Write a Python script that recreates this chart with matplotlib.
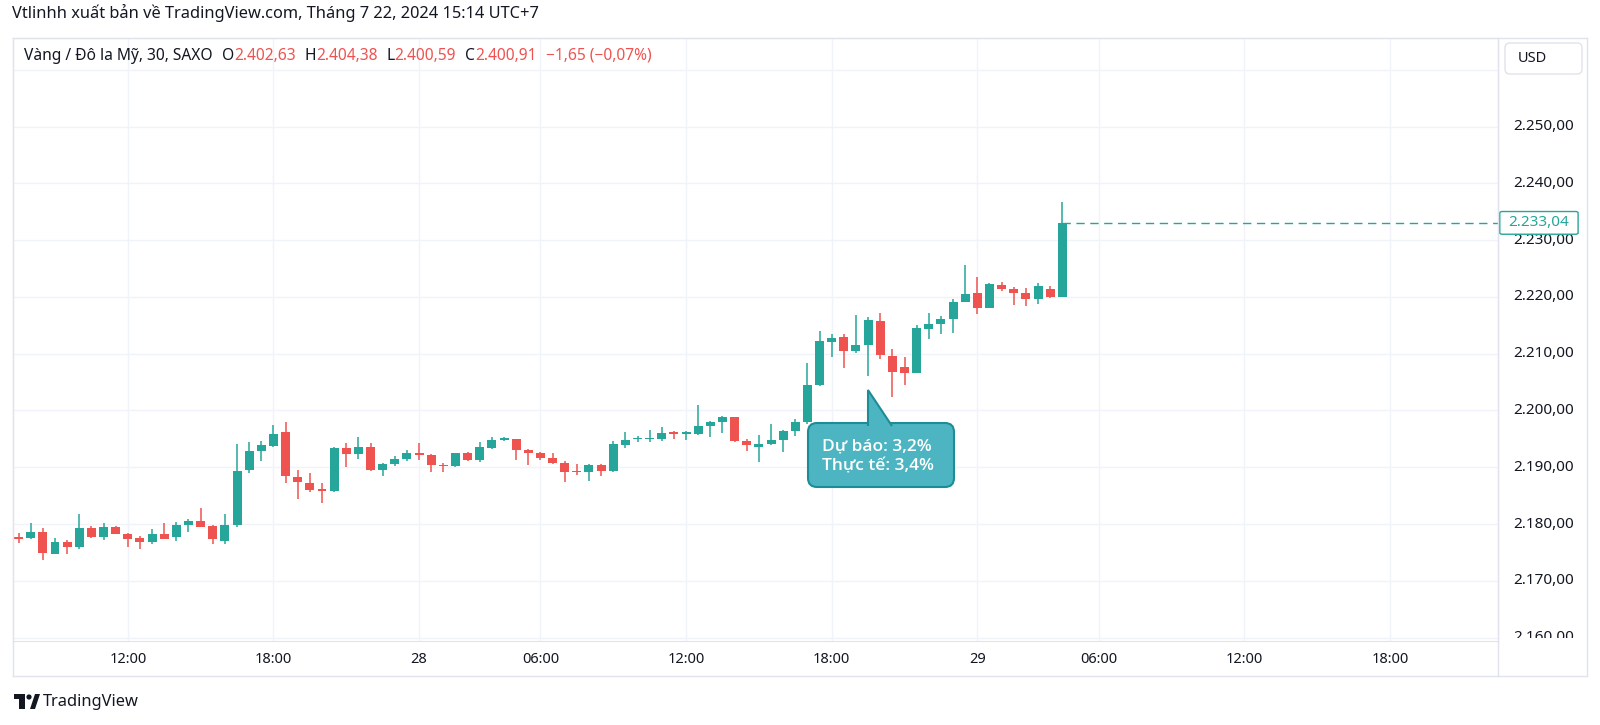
import numpy as np
import matplotlib
matplotlib.use("Agg")
import matplotlib.pyplot as plt
from matplotlib.patches import FancyBboxPatch, Polygon, Rectangle, Circle
from matplotlib.lines import Line2D
from matplotlib.transforms import Affine2D

# 30-minute candles, XAU/USD (SAXO)
opens = [2177.74, 2177.51, 2178.64, 2174.78, 2176.85, 2175.96, 2179.29, 2177.63, 2179.47, 2178.28,
         2177.51, 2176.79, 2178.28, 2177.63, 2179.88, 2180.53, 2179.64, 2177.09, 2179.76, 2189.44,
         2192.94, 2193.77, 2196.14, 2188.31, 2187.18, 2186.10, 2185.76, 2193.41, 2192.28, 2193.53,
         2189.56, 2190.50, 2191.51, 2192.46, 2192.10, 2190.33, 2190.15, 2192.58, 2191.28, 2193.47,
         2194.80, 2194.96, 2193.10, 2192.58, 2191.63, 2190.68, 2189.30, 2189.20, 2190.33, 2189.38,
         2194.00, 2194.90, 2194.90, 2194.96, 2196.14, 2195.79, 2195.90, 2197.33, 2197.98, 2198.93,
         2194.60, 2193.65, 2194.07, 2194.78, 2196.32, 2198.00, 2204.48, 2212.10, 2212.87, 2210.51,
         2211.51, 2215.71, 2209.62, 2207.67, 2206.55, 2214.41, 2215.23, 2216.06, 2219.19, 2220.61,
         2218.13, 2222.03, 2221.44, 2220.61, 2219.66, 2221.44, 2219.96]
highs = [2178.34, 2180.24, 2179.23, 2177.57, 2177.27, 2181.72, 2179.64, 2180.12, 2179.64, 2178.34,
         2177.86, 2179.11, 2180.12, 2180.42, 2180.89, 2182.85, 2179.76, 2181.72, 2194.07, 2194.42,
         2194.60, 2197.45, 2197.92, 2189.50, 2189.00, 2187.24, 2193.60, 2194.24, 2195.31, 2194.24,
         2190.68, 2191.99, 2193.00, 2194.24, 2192.28, 2190.80, 2192.50, 2192.60, 2194.48, 2195.25,
         2195.30, 2195.00, 2193.30, 2192.70, 2192.46, 2191.10, 2190.50, 2190.60, 2190.50, 2194.66,
         2196.26, 2195.50, 2196.56, 2197.15, 2196.44, 2196.32, 2200.90, 2198.10, 2199.10, 2198.93,
         2194.96, 2195.67, 2197.57, 2196.56, 2198.50, 2208.32, 2213.99, 2213.40, 2213.40, 2216.83,
         2216.41, 2217.18, 2210.80, 2209.44, 2215.12, 2217.18, 2216.59, 2219.55, 2225.69, 2223.50,
         2222.38, 2222.56, 2221.73, 2221.55, 2222.38, 2221.91, 2236.79]
lows = [2176.68, 2177.40, 2173.59, 2174.66, 2174.78, 2175.67, 2177.51, 2177.27, 2178.16, 2175.96,
        2175.67, 2176.56, 2177.40, 2176.97, 2178.64, 2179.41, 2176.56, 2176.44, 2179.53, 2189.00,
        2191.10, 2193.60, 2187.24, 2184.45, 2185.58, 2183.68, 2185.58, 2190.03, 2191.51, 2189.40,
        2188.43, 2190.21, 2191.10, 2191.28, 2189.14, 2189.14, 2190.10, 2191.16, 2190.90, 2193.20,
        2194.70, 2191.28, 2190.33, 2191.28, 2190.50, 2187.42, 2188.60, 2187.66, 2188.40, 2189.20,
        2193.47, 2194.36, 2194.48, 2194.66, 2194.96, 2194.78, 2195.73, 2195.40, 2196.10, 2194.36,
        2192.88, 2190.92, 2193.89, 2192.70, 2195.50, 2197.60, 2204.30, 2209.33, 2207.44, 2210.04,
        2206.08, 2209.15, 2202.42, 2204.48, 2206.55, 2212.58, 2213.46, 2213.64, 2219.07, 2216.95,
        2218.00, 2221.08, 2218.66, 2218.36, 2218.84, 2219.80, 2219.90]
closes = [2177.33, 2178.64, 2174.90, 2176.85, 2175.96, 2179.29, 2177.63, 2179.47, 2178.28, 2177.33,
          2176.85, 2178.28, 2177.45, 2179.88, 2180.53, 2179.53, 2177.33, 2179.88, 2189.26, 2192.94,
          2193.89, 2195.90, 2188.43, 2187.36, 2186.05, 2185.76, 2193.41, 2192.28, 2193.53, 2189.56,
          2190.50, 2191.45, 2192.58, 2192.10, 2190.33, 2190.15, 2192.46, 2191.28, 2193.53, 2194.78,
          2195.07, 2193.06, 2192.50, 2191.57, 2190.68, 2189.20, 2189.20, 2190.33, 2189.38, 2194.07,
          2194.78, 2195.07, 2195.07, 2196.08, 2195.79, 2196.14, 2197.33, 2197.98, 2198.93, 2194.60,
          2193.89, 2194.18, 2194.78, 2196.32, 2197.98, 2204.48, 2212.22, 2212.69, 2210.51, 2211.51,
          2215.94, 2209.80, 2206.85, 2206.55, 2214.52, 2215.29, 2216.06, 2219.19, 2220.43, 2218.01,
          2222.20, 2221.44, 2220.67, 2219.72, 2221.91, 2219.96, 2233.04]

# time axis: bar index of each label
tick_bars = [9, 21, 33, 43, 55, 67, 79, 89, 101, 113]
tick_labels = ["12:00", "18:00", "28", "06:00", "12:00", "18:00", "29", "06:00", "12:00", "18:00"]
day_labels = ["28", "29"]
price_ticks = [2160, 2170, 2180, 2190, 2200, 2210, 2220, 2230, 2240, 2250]
last_price = 2233.04

title = "Vtlinhh xuất bản về TradingView.com, Tháng 7 22, 2024 15:14 UTC+7"
symbol = "Vàng / Đô la Mỹ, 30, SAXO"
ohlc_header = [("O", "2.402,63"), ("H", "2.404,38"), ("L", "2.400,59"), ("C", "2.400,91")]
change_text = "−1,65 (−0,07%)"
note_lines = ["Dự báo: 3,2%", "Thực tế: 3,4%"]

UP = "#26a69a"
DOWN = "#ef5350"
TXT = "#131722"
GRID = "#f0f3fa"
BORDER = "#e0e3eb"

plt.rcParams['font.family'] = ['Noto Sans', 'DejaVu Sans']

W, H = 1600, 725
fig = plt.figure(figsize=(W / 100, H / 100), dpi=100)
# pixel coordinates, origin top-left
PX = Affine2D().scale(1 / W, -1 / H).translate(0, 1) + fig.transFigure


def fr(x, y):
    return x / W, 1 - y / H


def fmt(v):
    s = f"{v:,.2f}"
    return s.replace(",", "X").replace(".", ",").replace("X", ".")


L_, R_, T_, B_ = 13, 1498, 38, 641
ax = fig.add_axes([L_ / W, 1 - B_ / H, (R_ - L_) / W, (B_ - T_) / H])
ax.set_xlim(-0.46, 121.9)
ax.set_ylim(2159.4, 2265.6)

for v in range(2160, 2270, 10):
    ax.axhline(v, color=GRID, lw=1, zorder=0)
for b in tick_bars:
    ax.axvline(b, color=GRID, lw=1, zorder=0)

# candles
for i in range(len(opens)):
    o, h, l, c = opens[i], highs[i], lows[i], closes[i]
    col = UP if c >= o else DOWN
    ax.vlines(i, l, h, color=col, lw=1.1, zorder=2)
    ax.bar(i, max(abs(c - o), 0.18), bottom=min(o, c), width=0.74, color=col, zorder=3)

# last price line
ax.plot([len(opens) - 1, 200], [last_price, last_price], color=UP, lw=1,
        dashes=(6, 4), zorder=1)

ax.set_xticks(tick_bars)
ax.set_xticklabels(tick_labels)
for lab in ax.get_xticklabels():
    lab.set_fontsize(10.5)
    lab.set_color(TXT)
    if lab.get_text() in day_labels:
        lab.set_fontweight("bold")
ax.tick_params(axis="x", length=0, pad=8)
ax.set_yticks([])
for s in ax.spines.values():
    s.set_color(BORDER)

# price scale (labels clipped at the time axis, like the 2.160 one)
pax = fig.add_axes([R_ / W, 1 - (B_ - 3) / H, (1587 - R_) / W, (B_ - 3 - T_) / H])
pax.set_ylim(2159.4 + 3 / 5.68, 2265.6)
pax.set_xlim(0, 1)
pax.axis("off")
for v in price_ticks:
    pax.text(0.17, v, fmt(v), fontsize=11, color=TXT, va="center", ha="left", clip_on=True)
pax.add_patch(FancyBboxPatch((0.02, last_price - 2.0), 0.88, 4.0,
                             boxstyle="round,pad=0,rounding_size=0.03",
                             fc="white", ec=UP, lw=1, zorder=5, mutation_aspect=8))
pax.text(0.46, last_price, fmt(last_price), fontsize=11, color=UP, va="center",
         ha="center", zorder=6)

# USD button
fig.add_artist(FancyBboxPatch((1505, 43), 77, 31, boxstyle="round,pad=0,rounding_size=5",
                              fc="white", ec=BORDER, lw=1, transform=PX))
fig.text(*fr(1518, 58), "USD", fontsize=10.5, color=TXT, va="center", ha="left")

# frame lines
for x0, y0, x1, y1 in [(13, 38, 13, 676), (1498, 38, 1498, 676), (1587, 38, 1587, 676),
                       (13, 676, 1587, 676), (13, 38, 1587, 38)]:
    fig.add_artist(Line2D([x0, x1], [y0, y1], color=BORDER, lw=1, transform=PX))

# title and header
fig.text(*fr(12, 13), title, fontsize=11.8, color=TXT, va="center", ha="left")

renderer = fig.canvas.get_renderer()


def seg(x, s, col):
    t = fig.text(*fr(x, 56), s, fontsize=11.2, color=col, va="center", ha="left")
    return t.get_window_extent(renderer).x1


x = seg(24, symbol, TXT)
for k, val in ohlc_header:
    x = seg(x + 9, k, TXT)
    x = seg(x, val, DOWN)
seg(x + 10, change_text, DOWN)

# callout
fig.add_artist(FancyBboxPatch((808, 423), 146, 64, boxstyle="round,pad=0,rounding_size=9",
                              fc="#4db5c1", ec="#1e8c96", lw=1.5, transform=PX, zorder=10))
fig.add_artist(Polygon([(868, 426), (868, 390), (892, 426)], closed=False,
                       fc="#4db5c1", ec="#1e8c96", lw=1.5, transform=PX, zorder=11))
for k, line in enumerate(note_lines):
    fig.text(*fr(822, 446 + 20 * k), line, fontsize=12.5, color="white", va="center",
             ha="left", fontweight="semibold", family=["Open Sans", "Noto Sans"],
             zorder=12)

# TradingView logo
fig.add_artist(Rectangle((14, 694), 11, 5, fc=TXT, transform=PX))
fig.add_artist(Rectangle((19, 694), 6, 15, fc=TXT, transform=PX))
fig.add_artist(Circle((29, 697), 2.6, fc=TXT, transform=PX))
fig.add_artist(Polygon([(30, 709), (35, 709), (40, 694), (35, 694)], fc=TXT, transform=PX))
fig.text(*fr(43, 702), "TradingView", fontsize=11.8, color=TXT, va="center", ha="left")

fig.savefig("out.png", dpi=100, facecolor="white")
